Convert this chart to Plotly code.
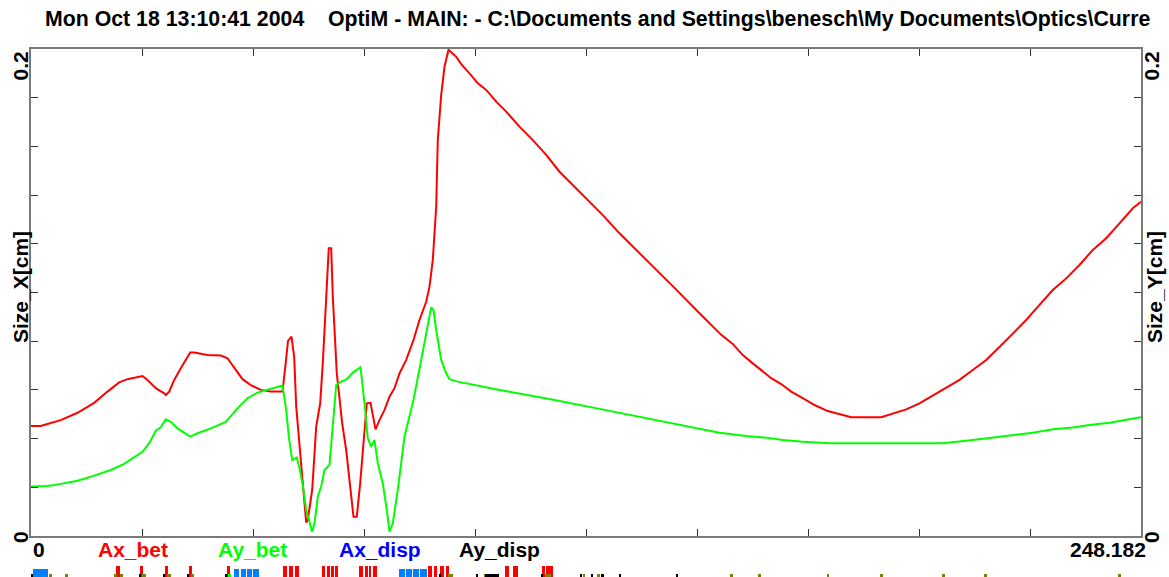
import plotly.graph_objects as go

# ---------------- data ----------------
s_total = 248.182  # machine length [m]

# Ax_bet : beam size X [cm] vs s [m]
ax_s = [0, 2.19, 3.69, 6.66, 10.40, 14.13, 17.10, 19.72, 21.58, 23.81,
        24.93, 26.05, 27.90, 29.78, 30.14, 30.90, 32.02, 33.49, 34.61, 35.60,
        36.49, 39.46, 42.44, 43.94, 45.79, 47.29, 49.14, 51.38, 53.62, 56.23,
        56.97, 57.46, 58.24, 58.85, 59.30, 60.41, 60.99, 61.53, 61.89, 62.87,
        63.77, 64.66, 65.24, 66.00, 66.58, 67.12, 67.48, 68.37, 69.58, 70.47,
        71.37, 72.11, 72.84, 73.60, 74.34, 75.08, 75.91, 76.42, 77.03, 77.92,
        79.04, 80.16, 81.27, 82.39, 83.89, 85.52, 86.86, 88.36, 89.10, 89.84,
        90.22, 90.60, 90.95, 91.71, 92.45, 93.35, 95.07, 96.19, 98.04, 99.90,
        101.78, 104.01, 106.25, 109.22, 112.20, 115.19, 118.17, 121.14, 124.13, 127.85,
        131.58, 133.08, 138.29, 143.88, 149.47, 152.44, 154.32, 156.91, 159.15, 161.38,
        163.62, 165.50, 167.73, 169.97, 172.56, 175.18, 178.15, 181.15, 183.39, 190.09,
        192.69, 195.68, 198.66, 201.63, 204.63, 207.60, 210.57, 213.57, 216.54, 219.52,
        222.51, 225.49, 228.46, 231.46, 234.43, 237.41, 240.40, 243.37, 246.35, 248.18]
ax_size = [0.0452, 0.0452, 0.0460, 0.0476, 0.0506, 0.0547, 0.0593, 0.0631, 0.0644, 0.0654,
           0.0657, 0.0641, 0.0607, 0.0586, 0.0579, 0.0593, 0.0641, 0.0689, 0.0723, 0.0754,
           0.0754, 0.0743, 0.0741, 0.0730, 0.0682, 0.0644, 0.0620, 0.0600, 0.0593, 0.0593,
           0.0713, 0.0801, 0.0819, 0.0736, 0.0531, 0.0299, 0.0175, 0.0055, 0.0066, 0.0189,
           0.0449, 0.0545, 0.0709, 0.0983, 0.1182, 0.1182, 0.0983, 0.0668, 0.0463, 0.0353,
           0.0189, 0.0079, 0.0079, 0.0216, 0.0381, 0.0545, 0.0547, 0.0490, 0.0438, 0.0476,
           0.0518, 0.0572, 0.0607, 0.0668, 0.0723, 0.0805, 0.0887, 0.0962, 0.1024, 0.1134,
           0.1257, 0.1352, 0.1626, 0.1811, 0.1927, 0.1997, 0.1968, 0.1938, 0.1900, 0.1859,
           0.1832, 0.1784, 0.1743, 0.1681, 0.1626, 0.1565, 0.1496, 0.1442, 0.1387, 0.1318,
           0.1243, 0.1216, 0.1121, 0.1019, 0.0915, 0.0860, 0.0826, 0.0789, 0.0743, 0.0709,
           0.0675, 0.0648, 0.0624, 0.0593, 0.0566, 0.0538, 0.0513, 0.0497, 0.0488, 0.0488,
           0.0504, 0.0520, 0.0545, 0.0576, 0.0607, 0.0641, 0.0682, 0.0723, 0.0776, 0.0832,
           0.0887, 0.0949, 0.1010, 0.1058, 0.1113, 0.1175, 0.1223, 0.1284, 0.1346, 0.1373]

# Ay_bet : beam size Y [cm] vs s [m]
ay_s = [0, 3.69, 6.66, 10.40, 14.13, 17.84, 20.84, 23.07, 24.93, 26.43,
        27.90, 29.02, 30.14, 31.26, 32.76, 35.60, 37.23, 40.20, 43.55, 46.17,
        48.41, 50.64, 53.62, 56.23, 57.06, 57.64, 58.40, 59.43, 60.03, 60.77,
        61.53, 62.27, 62.87, 63.39, 64.12, 64.88, 65.62, 66.74, 67.34, 68.24,
        69.36, 70.61, 71.95, 73.67, 74.57, 75.30, 76.06, 76.80, 77.54, 78.66,
        79.55, 80.16, 80.89, 82.01, 83.51, 85.52, 87.24, 88.72, 89.48, 89.99,
        90.60, 91.71, 92.83, 93.57, 95.43, 104.75, 115.93, 127.11, 138.29, 149.47,
        153.94, 159.91, 164.38, 168.09, 172.56, 178.54, 203.87, 210.57, 215.04, 219.52,
        223.99, 228.46, 232.93, 236.67, 241.14, 245.61, 248.18]
ay_size = [0.0203, 0.0205, 0.0214, 0.0227, 0.0248, 0.0271, 0.0296, 0.0323, 0.0346, 0.0381,
           0.0432, 0.0446, 0.0479, 0.0469, 0.0442, 0.0408, 0.0422, 0.0442, 0.0469, 0.0524,
           0.0566, 0.0589, 0.0603, 0.0618, 0.0518, 0.0408, 0.0312, 0.0322, 0.0278, 0.0209,
           0.0107, 0.0052, 0.0018, 0.0052, 0.0161, 0.0203, 0.0271, 0.0292, 0.0435, 0.0620,
           0.0634, 0.0644, 0.0671, 0.0693, 0.0545, 0.0401, 0.0367, 0.0394, 0.0299, 0.0216,
           0.0107, 0.0018, 0.0052, 0.0189, 0.0408, 0.0559, 0.0723, 0.0860, 0.0939, 0.0928,
           0.0846, 0.0723, 0.0668, 0.0644, 0.0634, 0.0600, 0.0563, 0.0522, 0.0481, 0.0438,
           0.0424, 0.0411, 0.0404, 0.0394, 0.0387, 0.0381, 0.0381, 0.0394, 0.0404, 0.0411,
           0.0424, 0.0438, 0.0446, 0.0456, 0.0465, 0.0479, 0.0488]

series_names = ["Ax_bet", "Ay_bet", "Ax_disp", "Ay_disp"]
series_colors = ["#ff0000", "#00ff00", "#0000ff", "#000000"]

# beamline elements (start, end) in s [m]
dipoles = [(0.5, 3.8), (45.3, 46.4), (46.85, 48.1), (48.2, 49.45), (49.6, 51.0),
           (82.37, 83.67), (83.82, 85.19), (85.37, 86.73), (86.91, 88.45)]
quads = [(19.05, 19.9), (24.44, 25.13), (29.92, 30.61), (35.31, 35.91), (43.78, 44.47),
         (56.45, 57.31), (57.73, 58.67), (59.10, 59.88),
         (65.0, 65.78), (66.2, 66.9), (67.05, 67.66), (68.08, 68.75),
         (73.38, 74.16), (74.68, 75.44), (75.62, 76.13), (76.56, 77.25),
         (88.79, 89.66), (90.08, 90.84), (91.54, 92.23), (92.72, 93.42),
         (105.91, 106.94), (107.79, 108.91),
         (114.3, 115.0), (115.1, 115.8), (115.9, 116.6)]
correctors = [(4.09, 4.76), (7.51, 8.18), (18.6, 19.2), (19.9, 20.5), (24.8, 25.6),
              (30.4, 31.3), (35.75, 36.4), (93.25, 94.35), (101.2, 102.05), (114.9, 116.2),
              (123.35, 123.95), (126.65, 127.25), (156.25, 156.9), (162.5, 163.2),
              (177.9, 178.5), (189.8, 190.5), (203.7, 204.35), (213.0, 213.7), (243.0, 243.65)]
monitors = [(0.22, 0.5), (24.2, 24.45), (29.7, 29.95), (35.0, 35.3), (43.55, 43.8),
            (91.3, 91.6), (99.4, 99.9), (101.6, 104.6), (114.0, 114.45), (122.65, 123.3),
            (125.15, 125.75), (127.5, 128.1), (131.45, 131.9), (144.2, 144.65)]
others = [(44.1, 44.8)]

y_max = 0.2
# title as visible in the reference (clipped there at the right edge)
title_text = (r"Mon Oct 18 13:10:41 2004" + "\u00a0" * 4 +
              r"OptiM - MAIN: - C:\Documents and Settings\benesch\My Documents\Optics\Curre")

# ---------------- layout helpers ----------------
W, H = 1169, 577
ML, MR, MT, MB = 31, 28, 49, 0
PW, PH = W - ML - MR, H - MT - MB


def px(xp):
    return (xp - ML) / PW


def py(yp):
    return (H - MB - yp) / PH


FONT = "Liberation Sans, Arial, Helvetica, sans-serif"
fsz = 21
tsz = 21.3

fig = go.Figure()

fig.add_trace(go.Scatter(x=ax_s, y=ax_size, mode="lines", name=series_names[0],
                         line=dict(color=series_colors[0], width=2), xaxis="x", yaxis="y"))
fig.add_trace(go.Scatter(x=ay_s, y=ay_size, mode="lines", name=series_names[1],
                         line=dict(color=series_colors[1], width=2), xaxis="x", yaxis="y3"))


def add_elements(elems, height, color):
    fig.add_trace(go.Bar(
        x=[(a + b) / 2 for a, b in elems],
        width=[b - a for a, b in elems],
        y=[height] * len(elems), base=0,
        marker=dict(color=color, line=dict(width=0)),
        xaxis="x2", yaxis="y2", hoverinfo="skip"))


add_elements(quads, 11.5, "#ff0000")
add_elements(dipoles, 8, "#0080ff")
add_elements(correctors, 3.5, "#808000")
add_elements(monitors, 3.5, "#000000")
add_elements(others, 3.5, "#00ff00")

xticks = [s_total * i / 10 for i in range(1, 10)]
yticks = [y_max * i / 10 for i in range(1, 10)]
main_bottom = py(536)

axis_common = dict(showgrid=False, zeroline=False, showline=True, linecolor="#7a7a7a",
                   linewidth=2, ticks="inside", ticklen=7, tickwidth=1, tickcolor="#333333",
                   mirror="ticks", showticklabels=False)

fig.update_layout(
    width=W, height=H,
    margin=dict(l=ML, r=MR, t=MT, b=MB),
    paper_bgcolor="white", plot_bgcolor="white",
    showlegend=False, barmode="overlay", bargap=0,
    font=dict(family=FONT, size=fsz, color="black", weight="bold"),
    title=dict(text=title_text, xref="container", yref="container",
               x=45 / W, xanchor="left", y=1 - 19 / H, yanchor="middle",
               font=dict(family=FONT, size=tsz, color="black", weight="bold")),
    xaxis=dict(range=[0, s_total], domain=[0, 1], anchor="y", tickvals=xticks, **axis_common),
    yaxis=dict(range=[0, y_max], domain=[main_bottom, 1], anchor="x", tickvals=yticks, **axis_common),
    yaxis3=dict(range=[0, y_max], overlaying="y", side="right", anchor="x",
                showgrid=False, zeroline=False, showline=False, showticklabels=False, ticks=""),
    xaxis2=dict(range=[0, s_total], domain=[0, 1], anchor="y2", visible=False),
    yaxis2=dict(range=[0, 19], domain=[0, py(558)], anchor="x2", visible=False),
)

ann = []
# axis titles and end labels (rotated)
for xpos, lab in [(20, "Size_X[cm]"), (1154, "Size_Y[cm]")]:
    ann.append(dict(text=lab, xref="paper", yref="paper", x=px(xpos), y=py(287),
                    xanchor="center", yanchor="middle", textangle=-90, showarrow=False))
for xpos in (20, 1151):
    ann.append(dict(text="0.2", xref="paper", yref="paper", x=px(xpos), y=py(50),
                    xanchor="center", yanchor="top", textangle=-90, showarrow=False))
    ann.append(dict(text="0", xref="paper", yref="paper", x=px(xpos), y=py(537),
                    xanchor="center", yanchor="middle", textangle=-90, showarrow=False))
# s-axis end labels
ann.append(dict(text="0", xref="paper", yref="paper", x=px(31), y=py(549),
                xanchor="left", yanchor="middle", showarrow=False))
ann.append(dict(text=f"{s_total:.3f}", xref="paper", yref="paper", x=px(1148), y=py(549),
                xanchor="right", yanchor="middle", showarrow=False))
# series legend labels
for xpos, name, col in zip([96, 216, 337, 457], series_names, series_colors):
    ann.append(dict(text=name, xref="paper", yref="paper", x=px(xpos), y=py(549),
                    xanchor="left", yanchor="middle", showarrow=False,
                    font=dict(family=FONT, size=fsz, color=col, weight="bold")))
fig.update_layout(annotations=ann)

fig.write_html("out.html", config={"displayModeBar": False},
               post_script="document.body.style.margin='0';")
